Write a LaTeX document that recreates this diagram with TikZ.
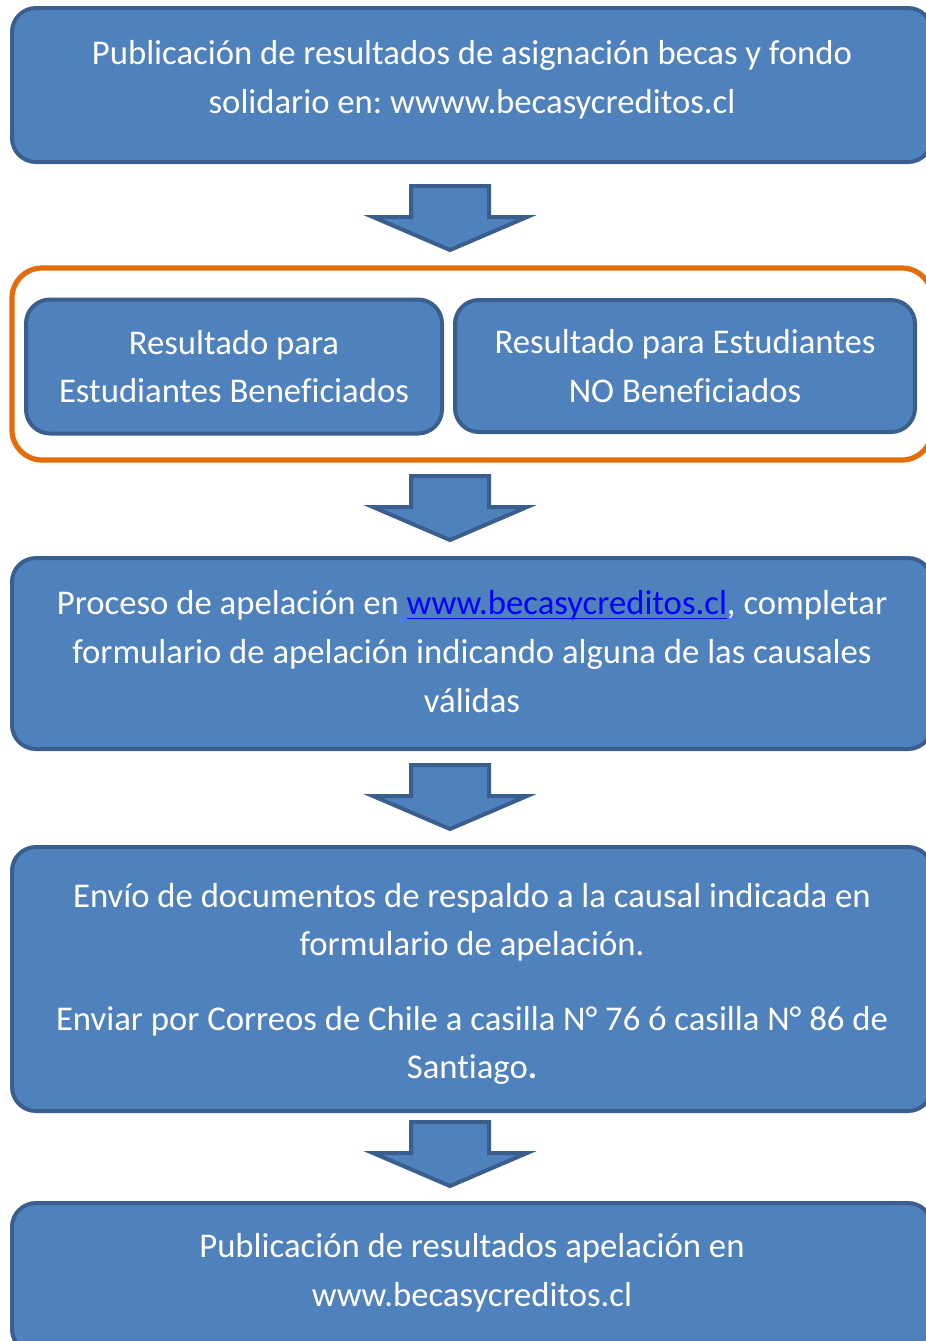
\documentclass[tikz,border=0pt]{standalone}
\usepackage{fontspec}
\setmainfont{Carlito}[Ligatures=CommonOff]
\usepackage{tikz}
\usetikzlibrary{positioning}

\definecolor{boxfill}{HTML}{4F81BD}
\definecolor{boxline}{HTML}{3A5F8E}
\definecolor{framecol}{HTML}{E46C0A}
\definecolor{linkblue}{HTML}{0000FF}

\newcommand{\weblink}[1]{\textcolor{linkblue}{\setbox0\hbox{#1}\rlap{\rule[-2.3pt]{\wd0}{0.9pt}}\box0}}

\tikzset{
  stepbox/.style={draw=boxline,fill=boxfill,line width=2pt,rounded corners=12pt,
    text=white,align=center,inner sep=0pt,
    font=\fontsize{17.35}{24.3}\selectfont\frenchspacing},
  steptext/.style={align=center,text=white,inner sep=0pt,
    font=\fontsize{17.35}{24.3}\selectfont\frenchspacing},
  framebox/.style={draw=framecol,line width=2.6pt,rounded corners=15pt,inner sep=0pt},
  downarrow/.style={draw=boxline,fill=boxfill,line width=2pt,line join=miter}
}

\begin{document}
\begin{tikzpicture}[x=0.5pt,y=-0.5pt]
        \useasboundingbox (0,0) rectangle (926,1341);
        % main steps
        \node[stepbox,minimum width=460pt,minimum height=77pt] (pub) at (472,85) {};
        \node[steptext] (pubtext) at (472,79.5)
          {Publicación de resultados de asignación becas y fondo\\ solidario en: wwww.becasycreditos.cl};
        \node[framebox,minimum width=460pt,minimum height=96pt] (res) at (472,364) {};
        \node[stepbox,minimum width=208pt,minimum height=67pt] (benef) at (234,366.5)
          {Resultado para\\ Estudiantes Beneficiados};
        \node[stepbox,minimum width=230pt,minimum height=66pt] (nobenef) at (685,366)
          {Resultado para Estudiantes\\ NO Beneficiados};
        \node[stepbox,minimum width=460pt,minimum height=95.5pt] (apel) at (472,653.5) {};
        \node[steptext] (apeltext) at (472,651.5)
          {Proceso de apelación en \weblink{www.becasycreditos.cl}, completar\\
           formulario de apelación indicando alguna de las causales\\ válidas};
        \node[stepbox,minimum width=460pt,minimum height=132pt] (docs) at (472,979) {};
        \node[steptext] (docstext) at (472,984)
          {Envío de documentos de respaldo a la causal indicada en\\ formulario de apelación.\\[13pt]
           Enviar por Correos de Chile a casilla N° 76 ó casilla N° 86 de\\ Santiago\textbf{.}};
        \node[stepbox,minimum width=460pt,minimum height=75pt] (final) at (472,1278) {};
        \node[steptext] (finaltext) at (472,1272.5)
          {Publicación de resultados apelación en\\ www.becasycreditos.cl};
        % block arrows between the steps
        \foreach \y in {186,476,765,1122} {
          \draw[downarrow,shift={(450,\y)}]
            (-39,0) -- (39,0) -- (39,31) -- (77,31) -- (0,64) -- (-77,31) -- (-39,31) -- cycle;
        }
\end{tikzpicture}
\end{document}
